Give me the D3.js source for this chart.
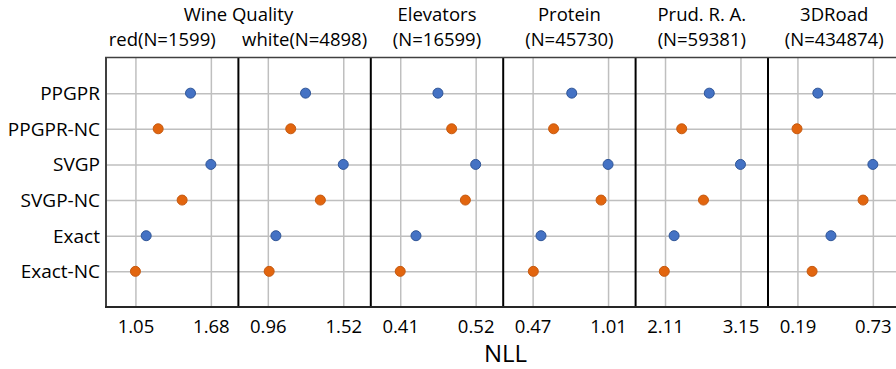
<!DOCTYPE html>
<html>
<head>
<meta charset="utf-8">
<script src="https://cdn.jsdelivr.net/npm/d3@7"></script>
<style>
  html, body { margin: 0; padding: 0; background: #fff; }
  svg { display: block; font-family: "Open Sans", sans-serif; }
  .grid line { stroke: #bfbfbf; stroke-width: 1.5; }
  .grid path { display: none; }
</style>
</head>
<body>
<svg id="chart" width="896" height="369"></svg>
<script>
// rows of the chart, top to bottom
const methods = ['PPGPR', 'PPGPR-NC', 'SVGP', 'SVGP-NC', 'Exact', 'Exact-NC'];

// one panel per dataset
const panelTitles = ['red(N=1599)', 'white(N=4898)', '(N=16599)', '(N=45730)', '(N=59381)', '(N=434874)'];
// top header: [label, first panel, last panel]
const groupTitles = [
  ['Wine Quality', 0, 1],
  ['Elevators', 2, 2],
  ['Protein', 3, 3],
  ['Prud. R. A.', 4, 4],
  ['3DRoad', 5, 5],
];

// tick labels of each panel's NLL axis
const panelTicks = [
  [1.05, 1.68],
  [0.96, 1.52],
  [0.41, 0.52],
  [0.47, 1.01],
  [2.11, 3.15],
  [0.19, 0.73],
];

// NLL per panel, in the order of `methods`
const nllWineRed   = [1.51, 1.24, 1.68, 1.44, 1.14, 1.05];
const nllWineWhite = [1.24, 1.13, 1.52, 1.35, 1.02, 0.97];
const nllElevators = [0.465, 0.485, 0.52, 0.505, 0.433, 0.41];
const nllProtein   = [0.75, 0.62, 1.01, 0.96, 0.53, 0.475];
const nllPrud      = [2.72, 2.34, 3.15, 2.64, 2.235, 2.10];
const nll3DRoad    = [0.336, 0.187, 0.73, 0.66, 0.43, 0.295];
const panelValues = [nllWineRed, nllWineWhite, nllElevators, nllProtein, nllPrud, nll3DRoad];

const svg = d3.select('#chart');

const plotLeft = 106, plotTop = 57.5, plotBottom = 307;
const panelW = 132.4;
const plotRight = plotLeft + panelW * panelTicks.length;

const panelScale = d3.scaleBand()
  .domain(d3.range(panelTicks.length))
  .range([plotLeft, plotRight]);

const yscale = d3.scalePoint()
  .domain(methods)
  .range([plotTop, plotBottom])
  .padding(1);

// each panel has the two ticks near 22% and 79% of its width
const xscales = panelTicks.map((t, i) => {
  const span = t[1] - t[0];
  const x0 = panelScale(i);
  return d3.scaleLinear()
    .domain([t[0] - 0.39 * span, t[1] + 0.365 * span])
    .range([x0, x0 + panelScale.bandwidth()]);
});

// horizontal grid
svg.append('g')
  .attr('class', 'grid')
  .attr('transform', `translate(${plotLeft},0)`)
  .call(d3.axisLeft(yscale).tickSize(-(plotRight - plotLeft)).tickFormat(''));

// vertical grid + tick labels, one axis per panel
xscales.forEach((xs, i) => {
  svg.append('g')
    .attr('class', 'grid')
    .attr('transform', `translate(0,${plotBottom})`)
    .call(d3.axisBottom(xs).tickValues(panelTicks[i]).tickSize(-(plotBottom - plotTop)).tickFormat(''));

  const ax = svg.append('g')
    .attr('transform', `translate(0,${plotBottom})`)
    .call(d3.axisBottom(xs).tickValues(panelTicks[i]).tickSize(0).tickPadding(13).tickFormat(d3.format('.2f')));
  ax.select('.domain').remove();
  ax.selectAll('text')
    .attr('font-family', '"Open Sans", sans-serif')
    .attr('font-size', 18.5)
    .attr('fill', '#000');
});

// panel dividers
svg.append('g')
  .selectAll('line')
  .data(d3.range(1, panelTicks.length))
  .join('line')
  .attr('x1', d => panelScale(d)).attr('x2', d => panelScale(d))
  .attr('y1', plotTop).attr('y2', plotBottom)
  .attr('stroke', '#000')
  .attr('stroke-width', 2);

// frame: left, bottom, top
svg.append('line')
  .attr('x1', plotLeft).attr('x2', plotLeft)
  .attr('y1', plotTop).attr('y2', plotBottom + 1)
  .attr('stroke', '#404040').attr('stroke-width', 2);
svg.append('line')
  .attr('x1', plotLeft - 1).attr('x2', plotRight)
  .attr('y1', plotBottom).attr('y2', plotBottom)
  .attr('stroke', '#262626').attr('stroke-width', 2);
svg.append('line')
  .attr('x1', plotLeft - 1).attr('x2', plotRight)
  .attr('y1', plotTop).attr('y2', plotTop)
  .attr('stroke', '#404040').attr('stroke-width', 1.5);

// row labels
svg.append('g')
  .selectAll('text')
  .data(methods)
  .join('text')
  .attr('x', plotLeft - 6)
  .attr('y', d => yscale(d))
  .attr('dy', '0.36em')
  .attr('text-anchor', 'end')
  .attr('font-size', 19)
  .text(d => d);

// dots
const isNC = m => m.endsWith('-NC');
panelValues.forEach((vals, i) => {
  svg.append('g')
    .selectAll('circle')
    .data(vals.map((v, j) => ({ method: methods[j], value: v })))
    .join('circle')
    .attr('cx', d => xscales[i](d.value))
    .attr('cy', d => yscale(d.method))
    .attr('r', 5)
    .attr('fill', d => isNC(d.method) ? '#e2650e' : '#4472c4')
    .attr('stroke', d => isNC(d.method) ? '#c55a11' : '#2f5597')
    .attr('stroke-width', 1);
});

// headers; the wine subtitles sit a little left of their panel centre
const panelCenter = i => panelScale(i) + panelScale.bandwidth() / 2;
svg.append('g')
  .selectAll('text')
  .data(groupTitles)
  .join('text')
  .attr('x', d => (panelScale(d[1]) + panelScale(d[2]) + panelScale.bandwidth()) / 2)
  .attr('y', 21)
  .attr('text-anchor', 'middle')
  .attr('font-size', 18.5)
  .text(d => d[0]);

svg.append('g')
  .selectAll('text')
  .data(panelTitles)
  .join('text')
  .attr('x', (d, i) => panelCenter(i) - (i === 0 ? 10 : 0))
  .attr('y', 46)
  .attr('text-anchor', 'middle')
  .attr('font-size', 18.5)
  .text(d => d);

// x-axis title
svg.append('text')
  .attr('x', 505.5)
  .attr('y', 362)
  .attr('text-anchor', 'middle')
  .attr('font-size', 24)
  .text('NLL');
</script>
</body>
</html>
